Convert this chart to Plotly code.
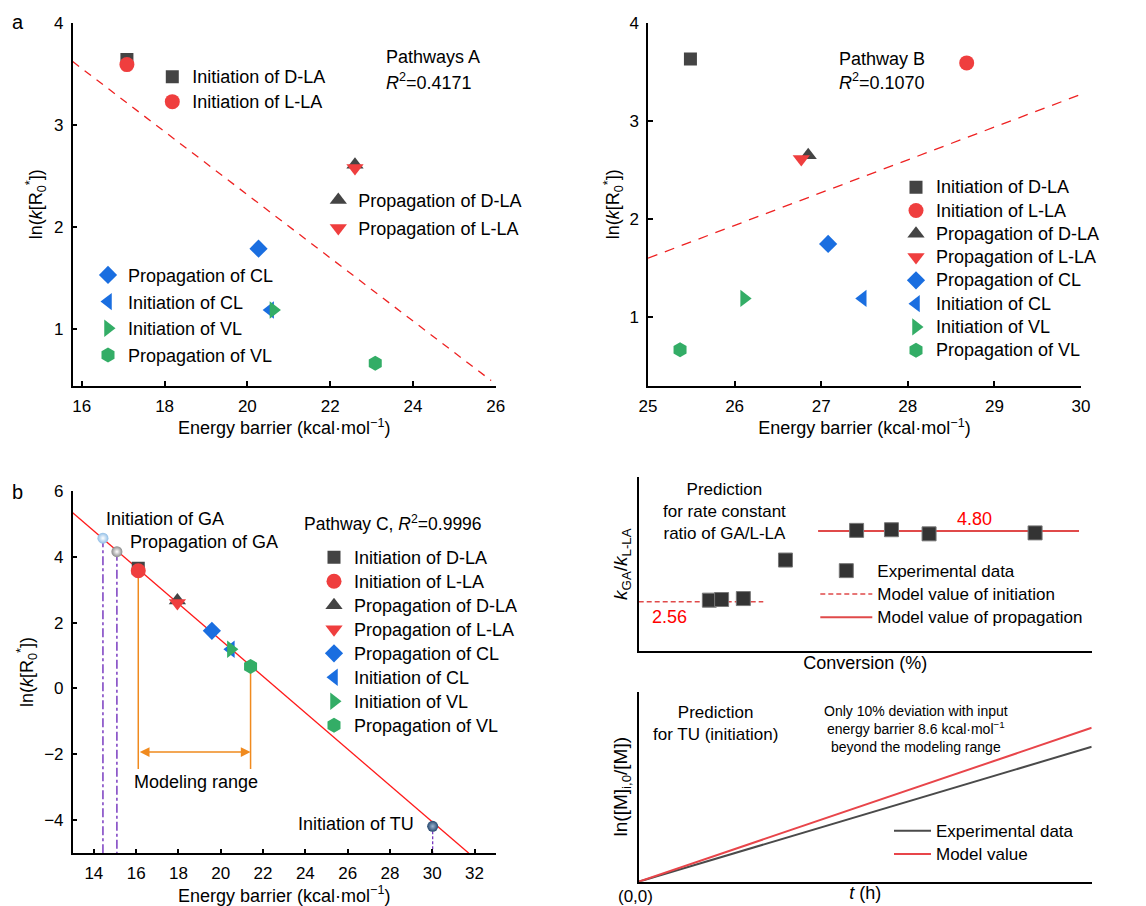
import plotly.graph_objects as go

W, H = 1146, 906
FONT = "Liberation Sans, Arial, Helvetica, sans-serif"

# ---------------- data ----------------
species = ["Initiation of D-LA", "Initiation of L-LA", "Propagation of D-LA",
           "Propagation of L-LA", "Propagation of CL", "Initiation of CL",
           "Initiation of VL", "Propagation of VL"]
symbols = ["square", "circle", "triangle-up", "triangle-down", "diamond",
           "triangle-left", "triangle-right", "hexagon"]
GREY, RED, BLUE, GREEN = "#444444", "#ef3e3e", "#1a6ee0", "#33ad66"
colors = [GREY, RED, GREY, RED, BLUE, BLUE, GREEN, GREEN]
sizes = [13, 15, 15, 15, 14, 15, 15, 15]

# Pathways A
ea_A = [17.09, 17.09, 22.60, 22.60, 20.27, 20.55, 20.63, 23.09]
lnk_A = [3.64, 3.59, 2.61, 2.58, 1.79, 1.19, 1.19, 0.67]
fitA_x = [15.78, 25.89]
fitA_y = [3.62, 0.50]
# Pathway B
ea_B = [25.49, 28.68, 26.85, 26.77, 27.08, 27.48, 26.11, 25.37]
lnk_B = [3.63, 3.59, 2.65, 2.61, 1.745, 1.19, 1.19, 0.667]
fitB_x = [25.0, 30.0]
fitB_y = [1.60, 3.27]
# Pathway C
ea_C = [16.10, 16.10, 17.95, 17.95, 19.58, 20.48, 20.48, 21.41]
lnk_C = [3.65, 3.57, 2.67, 2.59, 1.75, 1.19, 1.19, 0.67]
fitC_x = [13.0, 31.73]
fitC_y = [5.33, -5.0]
ga_names = ["Initiation of GA", "Propagation of GA"]
ga_ea = [14.43, 15.09]
ga_lnk = [4.56, 4.15]
tu_ea = [30.02]
tu_lnk = [-4.18]
model_range = [16.10, 21.41]
model_range_top = [3.57, 0.67]
model_range_bottom = -2.44
model_arrow_y = -1.93

# rate-constant ratio panel
conv = [15.6, 18.3, 23.1, 32.4, 48.1, 55.8, 64.1, 87.5]
ratio = [2.61, 2.63, 2.66, 3.88, 4.82, 4.84, 4.71, 4.74]
init_model = 2.56
prop_model = 4.80
init_span = [0.0, 27.5]
prop_span = [39.6, 97.2]

# TU initiation panel
t_h = [0, 100]
exp_ln = [0, 7.1]
model_ln = [0, 8.1]

fig = go.Figure()


def px(x):
    return x / W


def py(y):
    return 1 - y / H


def big(name, size=18):
    return f'<span style="font-size:{size}px">{name}</span>'


# ---- panel a left ----
fig.add_trace(go.Scatter(x=fitA_x, y=fitA_y, mode="lines", showlegend=False,
                         line=dict(color="#ee2222", width=1.3, dash="8px,7px"),
                         xaxis="x", yaxis="y", hoverinfo="skip"))
legA = ["legend", "legend", "legend2", "legend2", "legend3", "legend3", "legend3", "legend3"]
for i, nm in enumerate(species):
    fig.add_trace(go.Scatter(
        x=[ea_A[i]], y=[lnk_A[i]], mode="markers", name=big(nm),
        marker=dict(symbol=symbols[i], color=colors[i], size=sizes[i], line=dict(width=0)),
        xaxis="x", yaxis="y", legend=legA[i]))

# ---- panel a right ----
fig.add_trace(go.Scatter(x=fitB_x, y=fitB_y, mode="lines", showlegend=False,
                         line=dict(color="#ee2222", width=1.3, dash="10px,8px"),
                         xaxis="x2", yaxis="y2", hoverinfo="skip"))
for i, nm in enumerate(species):
    fig.add_trace(go.Scatter(
        x=[ea_B[i]], y=[lnk_B[i]], mode="markers", name=big(nm),
        marker=dict(symbol=symbols[i], color=colors[i], size=sizes[i], line=dict(width=0)),
        xaxis="x2", yaxis="y2", legend="legend4"))

# ---- panel b ----
PURPLE, ORANGE = "#7a3cc0", "#f08a1e"
fig.add_trace(go.Scatter(x=fitC_x, y=fitC_y, mode="lines", showlegend=False,
                         line=dict(color="#ff1a1a", width=1.3),
                         xaxis="x3", yaxis="y3", hoverinfo="skip"))
for i in range(len(ga_ea)):
    fig.add_trace(go.Scatter(x=[ga_ea[i], ga_ea[i]], y=[ga_lnk[i], -5], mode="lines",
                             showlegend=False, line=dict(color=PURPLE, width=1.5, dash="dashdot"),
                             xaxis="x3", yaxis="y3", hoverinfo="skip"))
fig.add_trace(go.Scatter(x=[tu_ea[0], tu_ea[0]], y=[tu_lnk[0], -5], mode="lines",
                         showlegend=False, line=dict(color=PURPLE, width=1.3, dash="3px,2px"),
                         xaxis="x3", yaxis="y3", hoverinfo="skip"))
for j in range(2):
    fig.add_trace(go.Scatter(x=[model_range[j], model_range[j]],
                             y=[model_range_top[j], model_range_bottom], mode="lines",
                             showlegend=False, line=dict(color=ORANGE, width=1.5),
                             xaxis="x3", yaxis="y3", hoverinfo="skip"))
for i, nm in enumerate(species):
    fig.add_trace(go.Scatter(
        x=[ea_C[i]], y=[lnk_C[i]], mode="markers", name=big(nm),
        marker=dict(symbol=symbols[i], color=colors[i], size=sizes[i], line=dict(width=0)),
        xaxis="x3", yaxis="y3", legend="legend5"))
sphere_cols = ["#8fbde6", "#8a8a8a"]
for i in range(len(ga_ea)):
    fig.add_trace(go.Scatter(x=[ga_ea[i]], y=[ga_lnk[i]], mode="markers", showlegend=False,
                             marker=dict(size=11, color=sphere_cols[i],
                                         gradient=dict(type="radial", color="#ffffff"),
                                         line=dict(width=0)),
                             xaxis="x3", yaxis="y3", name=ga_names[i]))
fig.add_trace(go.Scatter(x=tu_ea, y=tu_lnk, mode="markers", showlegend=False,
                         marker=dict(size=11, color="#26476e",
                                     gradient=dict(type="radial", color="#9bb3d0"),
                                     line=dict(width=0)),
                         xaxis="x3", yaxis="y3", name="Initiation of TU"))

# ---- panel c top ----
LRED = "#e04a4a"
fig.add_trace(go.Scatter(x=init_span, y=[init_model] * 2, mode="lines",
                         name=big("Model value of initiation", 17),
                         line=dict(color=LRED, width=1.5, dash="5px,3px"),
                         xaxis="x4", yaxis="y4", legend="legend6", legendrank=2))
fig.add_trace(go.Scatter(x=prop_span, y=[prop_model] * 2, mode="lines",
                         name=big("Model value of propagation", 17),
                         line=dict(color=LRED, width=2),
                         xaxis="x4", yaxis="y4", legend="legend6", legendrank=3))
fig.add_trace(go.Scatter(x=conv, y=ratio, mode="markers",
                         name=big("Experimental data", 17),
                         marker=dict(symbol="square", size=14, color="#333333",
                                     line=dict(color="#777777", width=1)),
                         xaxis="x4", yaxis="y4", legend="legend6", legendrank=1))

# ---- panel c bottom ----
fig.add_trace(go.Scatter(x=t_h, y=exp_ln, mode="lines", name=big("Experimental data", 17),
                         line=dict(color="#4a4a4a", width=2),
                         xaxis="x5", yaxis="y5", legend="legend7"))
fig.add_trace(go.Scatter(x=t_h, y=model_ln, mode="lines", name=big("Model value", 17),
                         line=dict(color="#e8454a", width=2),
                         xaxis="x5", yaxis="y5", legend="legend7"))

# ---------------- axes ----------------
tickfont = dict(family=FONT, size=17, color="black")
titlefont = dict(family=FONT, size=18, color="black")
EA_TITLE = "Energy barrier (kcal·mol<sup>−1</sup>)"
LNK_TITLE = "ln(<i>k</i>[R<sub>0</sub><sup>*</sup>])"


def ax(domain, anchor, rng, tickvals, title, standoff, **kw):
    d = dict(domain=domain, anchor=anchor, range=rng, tickvals=tickvals,
             showline=True, linecolor="black", linewidth=1.5, ticks="inside",
             ticklen=5, tickwidth=1.5, tickcolor="black", showgrid=False,
             zeroline=False, tickfont=tickfont, ticklabelstandoff=4,
             title=dict(text=title, font=titlefont, standoff=standoff))
    d.update(kw)
    return d


xdomL = [px(72.7), px(495.7)]
xdomR = [px(648), px(1081)]
ydomT = [py(385.7), py(22.7)]
ydomB = [py(853.3), py(490.7)]
xdomC = [px(638.7), px(1091.7)]
ydomC1 = [py(651), py(477.3)]
ydomC2 = [py(881.7), py(691.7)]

layout_axes = dict(
    xaxis=ax(xdomL, "y", [15.78, 26], [16, 18, 20, 22, 24, 26], EA_TITLE, 6),
    yaxis=ax(ydomT, "x", [0.45, 4], [1, 2, 3, 4], LNK_TITLE, 7),
    xaxis2=ax(xdomR, "y2", [25, 30], [25, 26, 27, 28, 29, 30], EA_TITLE, 6),
    yaxis2=ax(ydomT, "x2", [0.3, 4], [1, 2, 3, 4], LNK_TITLE, 5),
    xaxis3=ax(xdomL, "y3", [13, 33], list(range(14, 33, 2)), EA_TITLE, 4),
    yaxis3=ax(ydomB, "x3", [-5, 6], [-4, -2, 0, 2, 4, 6], LNK_TITLE, 6),
    xaxis4=dict(domain=xdomC, anchor="y4", range=[0, 100], showline=True, linecolor="black",
                linewidth=2, showticklabels=False, ticks="", showgrid=False, zeroline=False,
                title=dict(text="Conversion (%)", font=titlefont, standoff=4)),
    yaxis4=dict(domain=ydomC1, anchor="x4", range=[1.0, 6.5], showline=True, linecolor="black",
                linewidth=2, showticklabels=False, ticks="", showgrid=False, zeroline=False,
                title=dict(text="<i>k</i><sub>GA</sub>/<i>k</i><sub>L-LA</sub>",
                           font=dict(family=FONT, size=19, color="black"), standoff=4)),
    xaxis5=dict(domain=xdomC, anchor="y5", range=[0, 100], showline=True, linecolor="black",
                linewidth=2, showticklabels=False, ticks="", showgrid=False, zeroline=False,
                title=dict(text="<i>t</i> (h)", font=titlefont, standoff=4)),
    yaxis5=dict(domain=ydomC2, anchor="x5", range=[0, 10], showline=True, linecolor="black",
                linewidth=2, showticklabels=False, ticks="", showgrid=False, zeroline=False,
                title=dict(text="ln([M]<sub>i,0</sub>/[M])",
                           font=dict(family=FONT, size=19, color="black"), standoff=4)),
)


def leg(xp, ytop, fs, itemwidth=30):
    return dict(x=px(xp), y=py(ytop), xanchor="left", yanchor="top",
                bgcolor="rgba(0,0,0,0)", borderwidth=0, itemwidth=itemwidth,
                font=dict(family=FONT, size=fs, color="black"), tracegroupgap=0,
                traceorder="normal")


# legend font sizes set the row pitch; the visible text size comes from the span
legends = dict(
    legend=leg(152.3, 59.2, 16.9),
    legend2=leg(318.3, 181.0, 19.2),
    legend3=leg(88.0, 256.6, 18.2),
    legend4=leg(896.0, 170.6, 15.6),
    legend5=leg(314.0, 540.3, 16.15),
    legend6=leg(815.3, 554.0, 15.6, itemwidth=52),
    legend7=leg(889.0, 814.0, 15.6, itemwidth=37),
)

ann = []


def text(x, y, s, size=18, xanchor="left", xref="paper", yref="paper", color="black", yanchor="middle"):
    ann.append(dict(x=x, y=y, xref=xref, yref=yref, text=s, showarrow=False,
                    xanchor=xanchor, yanchor=yanchor,
                    font=dict(family=FONT, size=size, color=color)))


text(px(10), py(22), "a", size=20)
text(px(10), py(491.7), "b", size=20)
text(px(384.3), py(56.7), "Pathways A", size=18)
text(px(384.3), py(81), "<i>R</i><sup>2</sup>=0.4171", size=18)
text(px(836.7), py(59), "Pathway B", size=18)
text(px(836.7), py(81.7), "<i>R</i><sup>2</sup>=0.1070", size=18)
text(px(301.7), py(523.3), "Pathway C, <i>R</i><sup>2</sup>=0.9996", size=17.5)
text(14.47, 5.13, "Initiation of GA", size=18, xref="x3", yref="y3")
text(15.61, 4.45, "Propagation of GA", size=18, xref="x3", yref="y3")
text(29.25, -4.1, "Initiation of TU", size=18, xanchor="right", xref="x3", yref="y3")
text(18.85, -2.85, "Modeling range", size=18, xanchor="center", xref="x3", yref="y3")
text(px(724), py(511), "Prediction<br>for rate constant<br>ratio of GA/L-LA", size=17, xanchor="center")
text(6.9, 2.09, "2.56", size=18, xanchor="center", xref="x4", yref="y4", color="#ff0000")
text(74.2, 5.17, "4.80", size=18, xanchor="center", xref="x4", yref="y4", color="#ff0000")
text(px(715), py(723.7), "Prediction<br>for TU (initiation)", size=17, xanchor="center")
text(px(916), py(728.5),
     "Only 10% deviation with input<br>energy barrier 8.6 kcal·mol<sup>−1</sup><br>beyond the modeling range",
     size=14, xanchor="center")
text(px(635), py(896.7), "(0,0)", size=17, xanchor="center")

# modeling-range double arrow
ann.append(dict(x=model_range[1], y=model_arrow_y, ax=model_range[0], ay=model_arrow_y,
                xref="x3", yref="y3", axref="x3", ayref="y3", text="", showarrow=True,
                arrowhead=2, startarrowhead=2, arrowside="end+start", arrowsize=1.3,
                startarrowsize=1.3, arrowwidth=1.5, arrowcolor=ORANGE, standoff=0, startstandoff=0))

fig.update_layout(
    width=W, height=H, autosize=False,
    margin=dict(l=0, r=0, t=0, b=0, autoexpand=False),
    paper_bgcolor="white", plot_bgcolor="white",
    font=dict(family=FONT, color="black"),
    annotations=ann,
    **layout_axes, **legends,
)

fig.write_html("out.html")
